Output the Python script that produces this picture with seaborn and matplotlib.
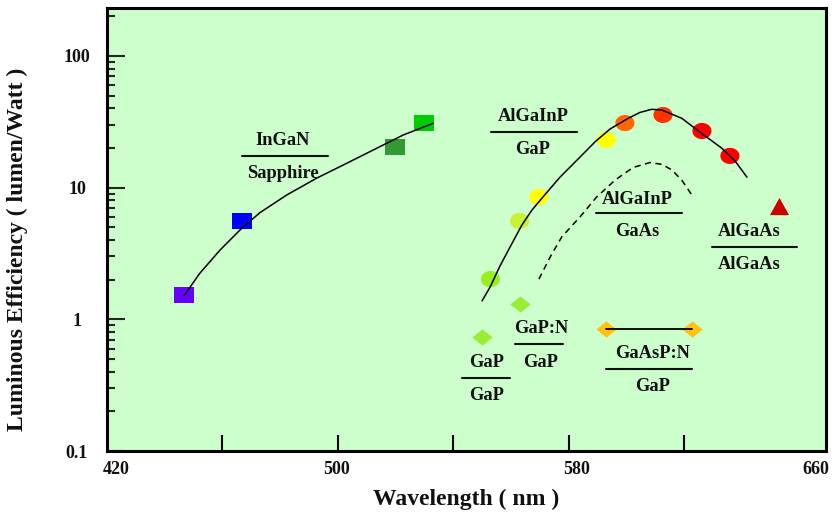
import numpy as np
import pandas as pd
import matplotlib
matplotlib.use("Agg")
import matplotlib.pyplot as plt
from matplotlib.path import Path
from matplotlib.ticker import LogLocator, NullFormatter
import seaborn as sns

# ---------------- data ----------------
ingan_wl = [446.7, 466.8, 519.8, 529.9]
ingan_eff = [1.53, 5.58, 20.3, 30.9]
ingan_colors = ["#6600FF", "#0000FF", "#339933", "#00CC00"]

algainp_wl = [552.9, 563.0, 569.7, 593.0, 599.5, 612.7, 626.2, 635.9]
algainp_eff = [2.02, 5.58, 8.48, 23.0, 30.9, 35.6, 26.9, 17.4]
algainp_colors = ["#99EE22", "#CCF033", "#FFFF00", "#FFFF00",
                  "#FF6600", "#FF3300", "#FF0000", "#FF0000"]

algaas_wl = [652.8]
algaas_eff = [7.25]

gap_wl = [549.8]
gap_eff = [0.74]
gapn_wl = [563.2]
gapn_eff = [1.31]
gaaspn_wl = [593.0, 622.8]
gaaspn_eff = [0.85, 0.85]

# fitted curves
ingan_curve_wl = [446.7, 452.2, 459.2, 466.7, 473.0, 482.3, 492.7, 503.1, 513.5, 522.7, 533.1]
ingan_curve_eff = [1.51, 2.24, 3.36, 4.91, 6.45, 8.79, 11.8, 15.3, 19.9, 25.1, 30.8]

gap_curve_wl = [550.0, 552.8, 556.2, 559.7, 563.8, 567.3, 570.8, 577.0, 584.0, 589.2,
                594.4, 600.7, 604.7, 608.8, 612.3, 619.2, 626.1, 633.1, 637.7, 641.8]
gap_curve_eff = [1.38, 1.76, 2.54, 3.54, 5.20, 6.76, 8.34, 12.0, 17.1, 22.3,
                 27.9, 33.6, 37.2, 39.3, 38.8, 33.6, 25.8, 19.9, 15.9, 12.0]

gaas_curve_wl = [569.7, 573.6, 577.6, 584.0, 589.7, 596.1, 602.3, 608.2, 612.4, 615.8, 619.2, 622.7]
gaas_curve_eff = [2.02, 2.97, 4.22, 6.01, 8.48, 11.4, 14.2, 15.5, 15.0, 13.6, 11.4, 8.79]

xtick_labels = ["420", "500", "580", "660"]
ytick_values = [0.1, 1, 10, 100]
ytick_labels = ["0.1", "1", "10", "100"]

labels = [  # (top, bottom)
    ("InGaN", "Sapphire"),
    ("AlGaInP", "GaP"),
    ("AlGaInP", "GaAs"),
    ("AlGaAs", "AlGaAs"),
    ("GaP:N", "GaP"),
    ("GaP", "GaP"),
    ("GaAsP:N", "GaP"),
]

# ---------------- style ----------------
sns.set_style("ticks")
plt.rcParams["font.family"] = ["Liberation Serif", "DejaVu Serif"]
plt.rcParams["font.weight"] = "bold"
TXT = "#111111"

fig = plt.figure(figsize=(8.32, 5.19), dpi=100)
ax = fig.add_axes([107 / 832, 1 - 451 / 519, 719 / 832, 443 / 519])
ax.set_facecolor("#CCFFCC")
ax.set_yscale("log")
ax.set_xlim(420, 669.2)
ax.set_ylim(0.1, 231)

# marker shapes
rect = Path([(-0.5, -0.4), (0.5, -0.4), (0.5, 0.4), (-0.5, 0.4), (-0.5, -0.4)], closed=True)
t = np.linspace(0, 2 * np.pi, 61)
ellipse = Path(np.column_stack([0.5 * np.cos(t), 0.42 * np.sin(t)]), closed=True)
diamond = Path([(0, -0.4), (0.5, 0), (0, 0.4), (-0.5, 0), (0, -0.4)], closed=True)
tri = Path([(-0.5, -0.45), (0.5, -0.45), (0, 0.45), (-0.5, -0.45)], closed=True)

df_sq = pd.DataFrame({"wl": ingan_wl, "eff": ingan_eff, "c": ingan_colors})
df_ci = pd.DataFrame({"wl": algainp_wl, "eff": algainp_eff, "c": algainp_colors})

sns.scatterplot(data=df_sq, x="wl", y="eff", hue="c",
                palette={c: c for c in ingan_colors}, marker=rect, s=207,
                linewidth=0, legend=False, ax=ax, zorder=2)
sns.scatterplot(data=df_ci, x="wl", y="eff", hue="c",
                palette={c: c for c in algainp_colors}, marker=ellipse, s=190,
                linewidth=0, legend=False, ax=ax, zorder=2)
sns.scatterplot(x=algaas_wl, y=algaas_eff, color="#CC0000", marker=tri, s=190,
                linewidth=0, legend=False, ax=ax, zorder=2)
sns.scatterplot(x=gap_wl + gapn_wl, y=gap_eff + gapn_eff, color="#99EE33",
                marker=diamond, s=215, linewidth=0, legend=False, ax=ax, zorder=2)
sns.scatterplot(x=gaaspn_wl, y=gaaspn_eff, color="#FFC20E", marker=diamond, s=215,
                linewidth=0, legend=False, ax=ax, zorder=2)

# curves
sns.lineplot(x=ingan_curve_wl, y=ingan_curve_eff, sort=False, estimator=None,
             color="black", lw=1.1, ax=ax, zorder=3)
sns.lineplot(x=gap_curve_wl, y=gap_curve_eff, sort=False, estimator=None,
             color="black", lw=1.1, ax=ax, zorder=3)
sns.lineplot(x=gaas_curve_wl, y=gaas_curve_eff, sort=False, estimator=None,
             color="black", lw=1.1, ax=ax, zorder=3, linestyle=(0, (4, 3)))
sns.lineplot(x=gaaspn_wl, y=gaaspn_eff, sort=False, estimator=None,
             color="black", lw=1.3, ax=ax, zorder=3)

# fraction-style labels: (center x, top y, bar y, bar x0, bar x1, bottom y) in axes fraction
label_pos = [
    (0.2448, 0.6998, 0.6659, 0.1878, 0.3074, 0.6275),
    (0.5925, 0.7562, 0.7201, 0.5341, 0.6537, 0.6817),
    (0.7371, 0.5688, 0.5372, 0.6801, 0.7997, 0.4944),
    (0.8929, 0.4944, 0.4605, 0.8414, 0.9597, 0.4221),
    (0.6036, 0.2754, 0.2415, 0.5675, 0.6342, 0.2009),
    (0.5285, 0.2009, 0.1648, 0.4937, 0.5605, 0.1264),
    (0.7594, 0.2190, 0.1851, 0.6940, 0.8136, 0.1445),
]
for (top, bot), (cx, ty, by, bx0, bx1, bty) in zip(labels, label_pos):
    ax.text(cx, ty, top, transform=ax.transAxes, ha="center", va="center",
            fontsize=13.3, fontweight="bold", color=TXT, zorder=4)
    ax.text(cx, bty, bot, transform=ax.transAxes, ha="center", va="center",
            fontsize=13.3, fontweight="bold", color=TXT, zorder=4)
    ax.plot([bx0, bx1], [by, by], transform=ax.transAxes, color=TXT, lw=1.5, zorder=4)

# ticks
ax.set_xticks([423.1, 499.7, 582.6, 665.8])
ax.set_xticklabels(xtick_labels)
ax.set_xticks([460, 500, 540, 580, 620], minor=True)
ax.tick_params(axis="x", which="major", length=0, pad=7, labelsize=13, labelcolor=TXT)
ax.tick_params(axis="x", which="minor", direction="in", length=11.5, width=1.5, color="black")

ax.set_yticks(ytick_values)
ax.set_yticklabels(ytick_labels)
ax.yaxis.set_minor_locator(LogLocator(base=10, subs=np.arange(2, 10)))
ax.yaxis.set_minor_formatter(NullFormatter())
ax.tick_params(axis="y", which="major", direction="in", length=13, width=1.5,
               pad=21.6, labelsize=13, labelcolor=TXT)
ax.tick_params(axis="y", which="minor", direction="in", length=6, width=1.5)
for lab in ax.get_yticklabels():
    lab.set_horizontalalignment("center")
for lab in ax.get_xticklabels() + ax.get_yticklabels():
    lab.set_fontweight("bold")

for sp in ax.spines.values():
    sp.set_visible(True)
    sp.set_linewidth(2.2)
    sp.set_color("black")

ax.set_xlabel("Wavelength ( nm )", fontsize=17, fontweight="bold", color=TXT, va="center")
ax.xaxis.set_label_coords(0.5, -0.11)
ax.set_ylabel("Luminous Efficiency ( lumen/Watt )", fontsize=17, fontweight="bold",
              color=TXT, va="center")
ax.yaxis.set_label_coords(-0.124, 0.455)

fig.savefig("out.png", dpi=100)
